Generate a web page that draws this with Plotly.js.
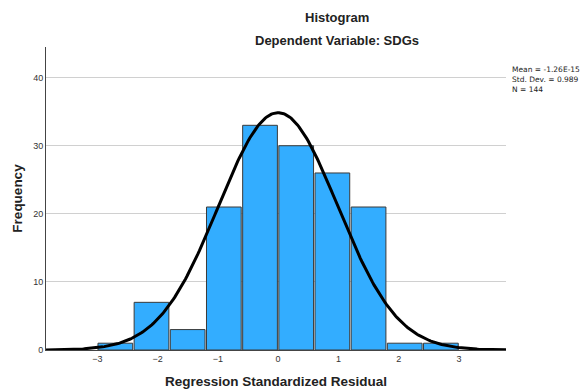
<!DOCTYPE html>
<html>
<head>
<meta charset="utf-8">
<script src="https://cdn.plot.ly/plotly-3.0.1.min.js"></script>
<style>html,body{margin:0;padding:0;background:#fff;}#chart{width:587px;height:390px;}</style>
</head>
<body>
<div id="chart"></div>
<script>
// Histogram bins (lower edges) and counts
const binStarts = [-3.0, -2.4, -1.8, -1.2, -0.6, 0.0, 0.6, 1.2, 1.8, 2.4];
const counts = [1, 7, 3, 21, 33, 30, 26, 21, 1, 1];
const binWidth = 0.6;
// Summary statistics shown on the chart
const meanVal = -1.26e-15;
const sdVal = 0.989;
const nVal = 144;
const statLines = ["Mean = -1.26E-15", "Std. Dev. = 0.989", "N = 144"];
const yTicks = [0, 10, 20, 30, 40];
const xTicks = [-3, -2, -1, 0, 1, 2, 3];

const xRange = [-3.85, 3.78];
const centers = binStarts.map(b => b + binWidth / 2);

// Normal curve scaled to the histogram (N * bin width * density)
const cx = [], cy = [];
const steps = 300;
for (let i = 0; i <= steps; i++) {
  const x = xRange[0] + (xRange[1] - xRange[0]) * i / steps;
  const z = (x - meanVal) / sdVal;
  cx.push(x);
  cy.push(nVal * binWidth * Math.exp(-0.5 * z * z) / (sdVal * Math.sqrt(2 * Math.PI)));
}

const font = "Liberation Sans, Arial, sans-serif";
const statFont = "DejaVu Sans, sans-serif";
const traces = [
  {
    type: "bar", x: centers, y: counts, width: binWidth * 0.96,
    marker: {color: "#33adff", line: {color: "#3a3a3a", width: 1}},
    hoverinfo: "skip"
  },
  {
    type: "scatter", mode: "lines", x: cx, y: cy,
    line: {color: "#000000", width: 3}, hoverinfo: "skip"
  }
];

const layout = {
  width: 587, height: 390,
  margin: {l: 46, r: 81, t: 47, b: 40},
  paper_bgcolor: "#ffffff", plot_bgcolor: "#ffffff",
  showlegend: false,
  font: {family: font, size: 9, color: "#333"},
  xaxis: {
    range: xRange, tickvals: xTicks, ticktext: xTicks.map(v => v < 0 ? "\u2212" + Math.abs(v) : String(v)),
    showgrid: false, zeroline: false, showline: true, linecolor: "#444", linewidth: 1,
    ticks: "", ticklen: 0, tickfont: {size: 9, color: "#333"},
    title: {text: "Regression Standardized Residual", font: {size: 13.5, color: "#222", family: font, weight: "bold"}, standoff: 13}
  },
  yaxis: {
    range: [0, 44.5], tickvals: yTicks,
    showgrid: true, gridcolor: "#d0d0d0", gridwidth: 1, zeroline: false,
    showline: true, linecolor: "#444", linewidth: 1,
    ticks: "", tickfont: {size: 9, color: "#333"},
    title: {text: "Frequency", font: {size: 13.5, color: "#222", family: font, weight: "bold"}, standoff: 7}
  },
  annotations: [
    {text: "<b>Histogram</b>", xref: "paper", yref: "paper", x: 0.633, y: 1.0, yshift: 30, xanchor: "center", yanchor: "middle",
     showarrow: false, font: {size: 13, color: "#222", family: font}},
    {text: "<b>Dependent Variable: SDGs</b>", xref: "paper", yref: "paper", x: 0.633, y: 1.0, yshift: 7, xanchor: "center", yanchor: "middle",
     showarrow: false, font: {size: 13, color: "#222", family: font}},
    {text: statLines.join("<br>"), xref: "paper", yref: "paper", x: 1.0, xshift: 4, y: 1.0, yshift: -16,
     xanchor: "left", yanchor: "top", align: "left", showarrow: false,
     font: {size: 7.5, color: "#222", family: statFont}}
  ]
};

Plotly.newPlot("chart", traces, layout, {staticPlot: true, displayModeBar: false});
</script>
</body>
</html>
